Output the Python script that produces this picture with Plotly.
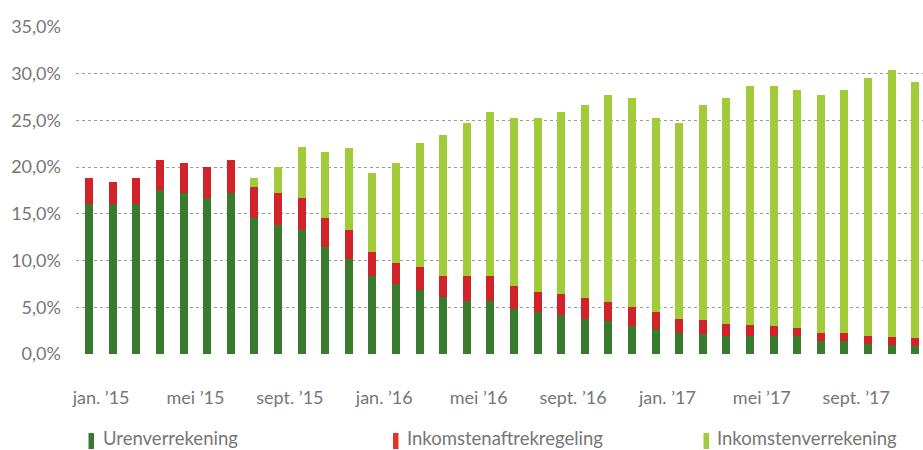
import plotly.graph_objects as go

# --- data (percentages per segment) ---
months = ["jan. ’15", "feb. ’15", "mrt. ’15", "apr. ’15", "mei ’15", "jun. ’15",
          "jul. ’15", "aug. ’15", "sept. ’15", "okt. ’15", "nov. ’15", "dec. ’15",
          "jan. ’16", "feb. ’16", "mrt. ’16", "apr. ’16", "mei ’16", "jun. ’16",
          "jul. ’16", "aug. ’16", "sept. ’16", "okt. ’16", "nov. ’16", "dec. ’16",
          "jan. ’17", "feb. ’17", "mrt. ’17", "apr. ’17", "mei ’17", "jun. ’17",
          "jul. ’17", "aug. ’17", "sept. ’17", "okt. ’17", "nov. ’17", "dec. ’17"]

urenverrekening = [16.1, 16.1, 16.1, 17.6, 17.2, 16.7, 17.2, 14.6, 13.8, 13.3, 11.4, 10.2,
                   8.35, 7.5, 6.9, 6.1, 5.7, 5.7, 4.8, 4.5, 4.2, 3.75, 3.5, 3.0,
                   2.65, 2.25, 2.15, 1.95, 1.95, 1.95, 1.95, 1.4, 1.35, 1.1, 0.95, 0.85]

inkomstenaftrek = [2.75, 2.3, 2.75, 3.2, 3.2, 3.3, 3.6, 3.3, 3.4, 3.4, 3.2, 3.1,
                   2.55, 2.2, 2.4, 2.25, 2.6, 2.6, 2.5, 2.1, 2.2, 2.2, 2.1, 2.0,
                   1.8, 1.5, 1.45, 1.3, 1.2, 1.1, 0.85, 0.85, 0.85, 0.85, 0.9, 0.85]

inkomstenverrekening = [0, 0, 0, 0, 0, 0, 0, 0.9, 2.8, 5.5, 7.0, 8.8,
                        8.5, 10.7, 13.3, 15.05, 16.4, 17.6, 18.0, 18.7, 19.5, 20.65, 22.1, 22.4,
                        20.85, 20.95, 23.0, 24.15, 25.55, 25.65, 25.5, 25.45, 26.1, 27.55, 28.55, 27.4]

tick_labels = ["jan. ’15", "mei ’15", "sept. ’15", "jan. ’16", "mei ’16",
               "sept. ’16", "jan. ’17", "mei ’17", "sept. ’17"]

y_ticks = [0, 5, 10, 15, 20, 25, 30, 35]
y_tick_labels = ["0,0%", "5,0%", "10,0%", "15,0%", "20,0%", "25,0%", "30,0%", "35,0%"]

series_names = ["Urenverrekening", "Inkomstenaftrekregeling", "Inkomstenverrekening"]
colors = ["#387B2D", "#D2232A", "#A2CB3A"]
legend_colors = ["#387B2D", "#E8302A", "#A2CB3A"]

x = list(range(len(months)))
tick_positions = [months.index(t) + 0.5 for t in tick_labels]

FONT = "Lato"
GREY = "#767676"

fig = go.Figure()
for name, vals, col in zip(series_names,
                           [urenverrekening, inkomstenaftrek, inkomstenverrekening],
                           colors):
    fig.add_trace(go.Bar(
        x=x, y=vals, name=name, width=0.34,
        marker=dict(color=col, line=dict(width=0)),
        customdata=months,
        hovertemplate="%{customdata}<br>" + name + ": %{y:.1f}%<extra></extra>",
    ))

W, H = 923, 450
ml, mr, mt, mb = 76, 0, 27, 96
pw, ph = W - ml - mr, H - mt - mb


def px_x(p):
    return (p - ml) / pw


def px_y(p):
    return (H - mb - p) / ph


fig.update_layout(
    width=W, height=H,
    barmode="stack",
    showlegend=False,
    separators=",.",
    plot_bgcolor="white", paper_bgcolor="white",
    margin=dict(l=ml, r=mr, t=mt, b=mb, pad=0, autoexpand=False),
    font=dict(family=FONT, color=GREY, size=18),
    xaxis=dict(
        range=[-0.563, 35.33],
        tickmode="array", tickvals=tick_positions, ticktext=tick_labels,
        showgrid=False, zeroline=False, showline=False, ticks="",
        ticklabelstandoff=31, automargin=False,
        tickfont=dict(family=FONT, size=18, color=GREY),
    ),
    yaxis=dict(
        range=[0, 35],
        tickmode="array", tickvals=y_ticks, ticktext=y_tick_labels,
        showgrid=True, gridcolor="#9a9a9a", gridwidth=1, griddash="dot",
        zeroline=False, showline=False, ticks="",
        ticklabelstandoff=14, automargin=False,
        tickfont=dict(family=FONT, size=18, color=GREY),
    ),
)

# manual legend (thin vertical swatches + labels)
legend_marker_x = [88.5, 393, 703.5]
legend_text_x = [101, 405, 715]
shapes = []
for mx, col in zip(legend_marker_x, legend_colors):
    shapes.append(dict(type="rect", xref="paper", yref="paper",
                       x0=px_x(mx), x1=px_x(mx + 5.5),
                       y0=px_y(449), y1=px_y(433),
                       fillcolor=col, line=dict(width=0)))
fig.update_layout(shapes=shapes)

for tx, name in zip(legend_text_x, series_names):
    fig.add_annotation(x=px_x(tx), y=px_y(437.5), xref="paper", yref="paper",
                       text=name, showarrow=False, xanchor="left", yanchor="middle",
                       font=dict(family=FONT, size=18.5, color=GREY))

fig.write_html("out.html",
               config={"displayModeBar": False},
               post_script="document.body.style.margin='0';document.body.style.padding='0';")
